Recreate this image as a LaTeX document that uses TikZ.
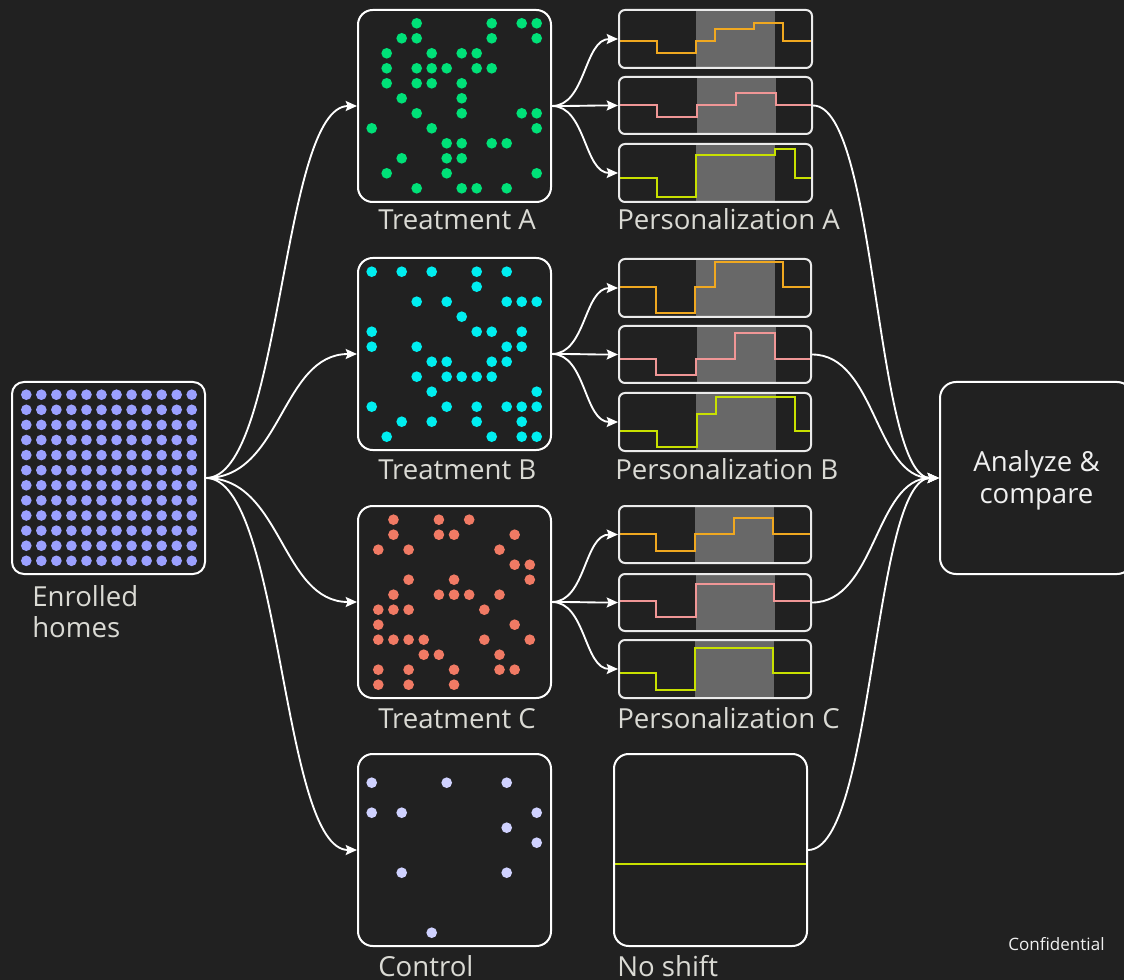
\documentclass[tikz,border=0pt]{standalone}
\usepackage{fontspec}
\setmainfont{Open Sans}
\usetikzlibrary{fit,arrows.meta}
\definecolor{bg}{RGB}{33,33,33}
\definecolor{lav}{RGB}{155,160,255}
\definecolor{lavlt}{RGB}{208,210,255}
\definecolor{grn}{RGB}{0,225,120}
\definecolor{cyn}{RGB}{0,238,240}
\definecolor{sal}{RGB}{240,122,100}
\definecolor{org}{RGB}{240,168,32}
\definecolor{pnk}{RGB}{240,150,150}
\definecolor{lim}{RGB}{200,225,0}
\definecolor{band}{RGB}{104,104,104}
\definecolor{lbl}{RGB}{218,218,212}
\begin{document}
\begin{tikzpicture}[x=0.75pt,y=-0.75pt,
  frame/.style={draw=white, line width=1.5pt, rounded corners=11pt, inner sep=0pt},
  chart/.style={draw=white!92!black, line width=1.5pt, rounded corners=4.5pt, inner sep=0pt},
  conn/.style={draw=white, line width=1.4pt, -{Stealth[length=8.5pt,width=7.5pt,inset=1.5pt]}},
  trace/.style={line width=1.5pt},
  lbltext/.style={text=lbl, inner sep=0pt, anchor=base west, font=\fontsize{20.7}{24}\selectfont},
  dot/.style={radius=4pt}]
\fill[bg] (0,0) rectangle (1124,980);
\useasboundingbox (0,0) rectangle (1124,980);
\clip (0,0) rectangle (1124,980);

% ---------- Enrolled homes ----------
\foreach \i in {0,...,11}{\foreach \j in {0,...,11}{
  \fill[lav] ({26.3+15.04*\i},{394.7+15.1*\j}) circle[dot];}}
\node[frame, rounded corners=9pt, fit={(12,382) (205,574)}] (enr) {};
\node[lbltext] (enrl1) at (32,606.7) {Enrolled};
\node[lbltext] (enrl2) at (32,637.5) {homes};

% ---------- Treatment A ----------
\foreach \c/\r in {3/0,8/0,10/0,11/0, 2/1,3/1,8/1,11/1, 1/2,4/2,6/2,7/2, 1/3,3/3,4/3,5/3,7/3,8/3,
  1/4,3/4,4/4,6/4, 2/5,6/5, 3/6,6/6,10/6,11/6, 0/7,4/7,11/7, 5/8,6/8,8/8,9/8, 2/9,5/9,6/9,
  1/10,5/10,11/10, 3/11,6/11,7/11,9/11}
  \fill[grn] ({371.7+15*\c},{23.3+15*\r}) circle[dot];
\node[frame, fit={(358,10) (551,202)}] (tA) {};
\node[lbltext] (ltA) at (378,230) {Treatment A};

% ---------- Treatment B ----------
\foreach \c/\r in {0/0,2/0,4/0,7/0,9/0, 7/1, 3/2,5/2,9/2,10/2,11/2, 6/3, 0/4,7/4,8/4,10/4,
  0/5,3/5,9/5,10/5, 4/6,5/6,8/6,9/6, 3/7,5/7,6/7,7/7,8/7, 4/8,11/8, 0/9,5/9,7/9,9/9,10/9,11/9,
  2/10,4/10,7/10,10/10, 1/11,8/11,10/11,11/11}
  \fill[cyn] ({371.7+15*\c},{271.7+15*\r}) circle[dot];
\node[frame, fit={(358,258) (551,450)}] (tB) {};
\node[lbltext] (ltB) at (378,479) {Treatment B};

% ---------- Treatment C ----------
\foreach \c/\r in {1/0,4/0,6/0, 1/1,4/1,5/1,9/1, 0/2,2/2,8/2, 9/3,10/3, 2/4,5/4,10/4,
  1/5,4/5,5/5,6/5,8/5, 0/6,1/6,2/6,7/6, 0/7,9/7, 0/8,1/8,2/8,3/8,7/8,10/8, 3/9,4/9,8/9,
  0/10,2/10,5/10,8/10,9/10, 0/11,2/11,5/11}
  \fill[sal] ({378.3+15.15*\c},{519.7+15*\r}) circle[dot];
\node[frame, fit={(358,506) (551,698)}] (tC) {};
\node[lbltext] (ltC) at (378,728) {Treatment C};

% ---------- Control ----------
\foreach \c/\r in {0/0,5/0,9/0, 0/2,2/2,11/2, 9/3, 11/4, 2/6,9/6, 4/10}
  \fill[lavlt] ({371.7+15*\c},{782.7+15*\r}) circle[dot];
\node[frame, fit={(358,754) (551,946)}] (ctl) {};
\node[lbltext] (lctl) at (378,976.5) {Control};

% ---------- Personalization A ----------
\fill[band] (696,10) rectangle (775,68);
\fill[band] (696.5,77) rectangle (776,134);
\fill[band] (696,144) rectangle (775,202);
\draw[org,trace] (619,40.7) -- (656.7,40.7) |- (696,52.7) |- (715,41) |- (754,29.3) |- (782.7,23.3) |- (812,40.7);
\draw[pnk,trace] (619,105) -- (656.7,105) |- (696.7,117.3) |- (735.7,105) |- (776,93.3) |- (812,105);
\draw[lim,trace] (619,178.3) -- (656.7,178.3) |- (696,196.7) |- (775,155) |- (795,149) |- (812,178.3);
\node[chart, fit={(619,10) (812,68)}] (a1) {};
\node[chart, fit={(619,77) (812,134)}] (a2) {};
\node[chart, fit={(619,144) (812,202)}] (a3) {};
\node[lbltext] (lpA) at (617,230) {Personalization A};

% ---------- Personalization B ----------
\fill[band] (696,259) rectangle (775,317);
\fill[band] (697,326) rectangle (776,383);
\fill[band] (696,393) rectangle (776,451);
\draw[org,trace] (619,287.3) -- (656,287.3) |- (695,312.7) |- (715,287.3) |- (782.7,262.3) |- (811,287.3);
\draw[pnk,trace] (619,359) -- (656,359) |- (696,375) |- (735,359) |- (775,333.3) |- (811,359);
\draw[lim,trace] (619,430.7) -- (657.3,430.7) |- (696.7,447.3) |- (716,414) |- (795,397.3) |- (811,430.7);
\node[chart, fit={(619,259) (811,317)}] (b1) {};
\node[chart, fit={(619,326) (811,383)}] (b2) {};
\node[chart, fit={(619,393) (811,451)}] (b3) {};
\node[lbltext] (lpB) at (615,479) {Personalization B};

% ---------- Personalization C ----------
\fill[band] (695,506) rectangle (774,563);
\fill[band] (696,574) rectangle (775,631);
\fill[band] (695,640) rectangle (774,698);
\draw[org,trace] (619,534) -- (656,534) |- (695,551) |- (734.3,534) |- (773.3,518.3) |- (811,534);
\draw[pnk,trace] (619,600.7) -- (656,600.7) |- (696,617.3) |- (774,584) |- (811,600.7);
\draw[lim,trace] (619,673.3) -- (656,673.3) |- (695,690) |- (772.7,648.3) |- (811,673.3);
\node[chart, fit={(619,506) (811,563)}] (c1) {};
\node[chart, fit={(619,574) (811,631)}] (c2) {};
\node[chart, fit={(619,640) (811,698)}] (c3) {};
\node[lbltext] (lpC) at (617,728) {Personalization C};

% ---------- No shift ----------
\draw[lim,trace] (614,864) -- (807,864);
\node[frame, fit={(614,754) (807,946)}] (ns) {};
\node[lbltext] (lns) at (617,976) {No shift};

% ---------- Analyze ----------
\node[frame, rounded corners=12pt, fit={(940,382) (1133,574)}] (an) {};
\node[text=white!94!black, inner sep=0pt, anchor=base, font=\fontsize{20.7}{24}\selectfont] (an1) at (1036.5,471.7) {Analyze \&};
\node[text=white!94!black, inner sep=0pt, anchor=base, font=\fontsize{20.7}{24}\selectfont] (an2) at (1036.5,503.3) {compare};

\node[text=white!94!black, inner sep=0pt, anchor=base west, font=\fontsize{12.8}{15}\selectfont] (conf) at (1008,950.7) {Confidential};

% ---------- Connectors ----------
\foreach \t in {tA,tB,tC,ctl}
  \draw[conn] (enr.east) .. controls +(76,0) and +(-76,0) .. (\t.west);
\foreach \s/\t in {tA/a1,tA/a2,tA/a3,tB/b1,tB/b2,tB/b3,tC/c1,tC/c2,tC/c3}
  \draw[conn] (\s.east) .. controls +(34,0) and +(-34,0) .. (\t.west);
\foreach \s in {a2,b2,c2}
  \draw[conn] (\s.east) .. controls +(64,0) and +(-64,0) .. (an.west);
\draw[conn] (ns.east) .. controls +(66,0) and +(-66,0) .. (an.west);
\end{tikzpicture}
\end{document}
